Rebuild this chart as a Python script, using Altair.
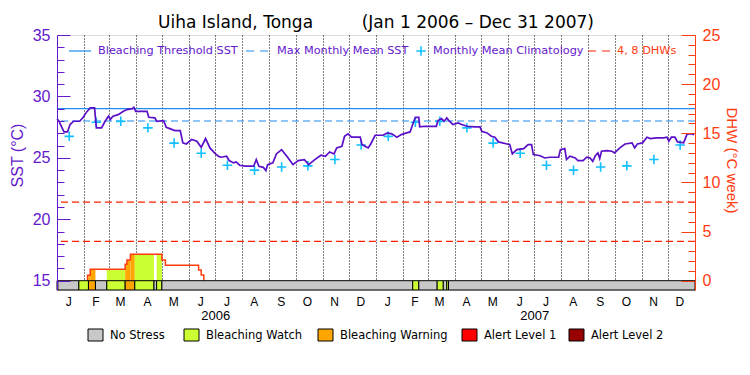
import altair as alt
import pandas as pd

# ------------------------------------------------------------------ data
sst_dates = [
    "2006-01-01", "2006-01-03", "2006-01-06", "2006-01-09", "2006-01-13", "2006-01-16", "2006-01-20",
    "2006-01-27", "2006-01-31", "2006-02-04", "2006-02-08", "2006-02-13", "2006-02-15", "2006-02-21",
    "2006-02-25", "2006-03-01", "2006-03-03", "2006-03-06", "2006-03-12", "2006-03-18", "2006-03-22",
    "2006-03-28", "2006-03-30", "2006-04-01", "2006-04-14", "2006-04-16", "2006-04-23", "2006-04-25",
    "2006-05-03", "2006-05-06", "2006-05-10", "2006-05-16", "2006-05-22", "2006-05-25", "2006-05-29",
    "2006-06-04", "2006-06-10", "2006-06-15", "2006-06-20", "2006-06-25", "2006-07-01", "2006-07-05",
    "2006-07-08", "2006-07-14", "2006-07-17", "2006-07-22", "2006-07-25", "2006-07-29", "2006-08-04",
    "2006-08-14", "2006-08-17", "2006-08-20", "2006-08-25", "2006-08-28", "2006-08-30", "2006-09-05",
    "2006-09-09", "2006-09-15", "2006-09-21", "2006-09-28", "2006-10-04", "2006-10-11", "2006-10-16",
    "2006-10-23", "2006-10-30", "2006-11-04", "2006-11-09", "2006-11-14", "2006-11-17", "2006-11-23",
    "2006-11-26", "2006-11-30", "2006-12-04", "2006-12-14", "2006-12-16", "2006-12-23", "2006-12-26",
    "2006-12-31", "2007-01-09", "2007-01-14", "2007-01-19", "2007-01-25", "2007-01-30", "2007-02-05",
    "2007-02-09", "2007-02-13", "2007-02-15", "2007-02-19", "2007-02-20", "2007-02-26", "2007-03-11",
    "2007-03-13", "2007-03-17", "2007-03-20", "2007-03-23", "2007-03-26", "2007-03-30", "2007-04-05",
    "2007-04-09", "2007-04-15", "2007-04-24", "2007-04-30", "2007-05-02", "2007-05-08", "2007-05-13",
    "2007-05-17", "2007-05-21", "2007-05-31", "2007-06-03", "2007-06-06", "2007-06-11", "2007-06-19",
    "2007-06-24", "2007-06-28", "2007-06-30", "2007-07-08", "2007-07-13", "2007-07-19", "2007-07-29",
    "2007-07-31", "2007-08-05", "2007-08-07", "2007-08-11", "2007-08-17", "2007-08-20", "2007-08-26",
    "2007-08-30", "2007-09-03", "2007-09-06", "2007-09-09", "2007-09-12", "2007-09-14", "2007-09-16",
    "2007-09-22", "2007-09-28", "2007-10-01", "2007-10-07", "2007-10-13", "2007-10-21", "2007-10-24",
    "2007-10-27", "2007-11-02", "2007-11-07", "2007-11-11", "2007-11-18", "2007-11-26", "2007-11-30",
    "2007-12-02", "2007-12-05", "2007-12-09", "2007-12-12", "2007-12-19", "2007-12-23", "2007-12-28",
    "2007-12-31",
]
sst_values = [
    28.17, 28.03, 27.57, 27.11, 27.11, 27.71, 27.98,
    27.98, 28.30, 28.74, 29.06, 29.06, 27.44, 27.44,
    27.98, 28.39, 28.12, 28.39, 28.52, 28.79, 28.93,
    29.01, 29.12, 28.79, 28.79, 28.30, 28.25, 27.98,
    28.03, 27.49, 27.38, 27.22, 27.22, 26.22, 26.13,
    26.49, 26.35, 25.86, 26.57, 25.81, 25.35, 25.12,
    25.05, 25.13, 24.78, 24.59, 24.67, 24.40, 24.32,
    24.32, 24.86, 24.32, 24.23, 23.96, 24.45, 24.59,
    25.32, 25.67, 25.13, 24.45, 24.78, 24.86, 24.45,
    24.86, 25.21, 25.13, 25.48, 25.32, 25.81, 25.94,
    26.76, 26.95, 26.68, 26.68, 26.08, 25.81, 26.13,
    26.84, 26.84, 27.03, 26.95, 26.68, 26.89, 27.03,
    27.11, 27.92, 28.30, 28.30, 27.52, 27.57, 27.57,
    28.03, 28.20, 27.98, 28.25, 27.98, 27.71, 27.84,
    27.71, 27.57, 27.52, 27.52, 27.17, 27.03, 26.76,
    26.68, 26.30, 26.13, 26.08, 25.32, 25.67, 25.75,
    26.08, 26.08, 25.27, 25.17, 24.99, 25.05, 25.05,
    25.67, 25.75, 24.86, 25.13, 24.99, 24.78, 24.78,
    25.05, 24.99, 24.72, 25.18, 25.40, 24.94, 25.54,
    25.59, 25.54, 25.40, 25.81, 26.13, 26.22, 25.81,
    26.13, 26.22, 26.68, 26.57, 26.62, 26.62, 26.68,
    26.35, 26.68, 26.68, 26.30, 26.22, 26.95, 26.95,
    26.89,
]

title_text = "Uiha Island, Tonga" + "\u00a0" * 9 + "(Jan 1 2006 \u2013 Dec 31 2007)"
years = ["2006", "2007"]
month_letters = ["J", "F", "M", "A", "M", "J", "J", "A", "S", "O", "N", "D"]
clim_values = [26.75, 27.90, 27.97, 27.44, 26.20, 25.37, 24.40, 24.00, 24.26, 24.35, 24.86, 26.05]

bleaching_threshold = 29.0
max_monthly_mean = 28.0
dhw_levels = [4, 8]

dhw_dates = ["2006-02-05", "2006-02-05", "2006-02-08", "2006-03-20", "2006-03-22", "2006-03-26",
             "2006-05-01", "2006-05-05", "2006-06-12", "2006-06-15", "2006-06-18"]
dhw_values = [0.0, 0.55, 1.16, 1.67, 2.10, 2.68, 2.10, 1.57, 1.09, 0.58, 0.0]

status_names = ["No Stress", "Bleaching Watch", "Bleaching Warning", "Alert Level 1", "Alert Level 2"]
status_colors = ["#c8c8c8", "#ccff33", "#ffa500", "#ff0000", "#990000"]
status_starts = ["2006-01-01", "2006-01-02", "2006-01-26", "2006-02-06", "2006-02-14", "2006-02-27",
                 "2006-03-20", "2006-03-31", "2006-04-22", "2006-04-25", "2006-05-01", "2007-02-12",
                 "2007-02-19", "2007-03-12", "2007-03-19", "2007-03-23", "2007-03-25"]
status_levels = ["No Stress", "No Stress", "Bleaching Watch", "Bleaching Warning", "No Stress",
                 "Bleaching Watch", "Bleaching Warning", "Bleaching Watch", "No Stress",
                 "Bleaching Watch", "No Stress", "Bleaching Watch", "No Stress", "Bleaching Watch",
                 "No Stress", "Bleaching Watch", "No Stress"]
period_end = "2008-01-01"

# ------------------------------------------------------------------ tables
sst_df = pd.DataFrame({"date": pd.to_datetime(sst_dates), "sst": sst_values})
clim_df = pd.DataFrame({
    "date": pd.to_datetime([f"{y}-{m + 1:02d}-15" for y in years for m in range(12)]),
    "sst": clim_values * len(years),
})
st = list(pd.to_datetime(status_starts))
en = st[1:] + [pd.Timestamp(period_end)]
status_df = pd.DataFrame({"start": st, "end": en, "level": status_levels})
dd = list(pd.to_datetime(dhw_dates))
dhw_df = pd.DataFrame({"date": dd, "dhw": dhw_values})


def dhw_at(t):
    v = 0.0
    for d, val in zip(dd, dhw_values):
        if d <= t:
            v = val
    return v


fill_rows = []
for s, e, lvl in zip(st, en, status_levels):
    if lvl == "No Stress":
        continue
    cuts = sorted(set([s, e] + [d for d in dd if s < d < e]))
    for a, b in zip(cuts[:-1], cuts[1:]):
        v = dhw_at(a)
        if v > 0:
            fill_rows.append({"start": a, "end": b, "dhw": v, "level": lvl})
fill_df = pd.DataFrame(fill_rows)

# ------------------------------------------------------------------ style
W, H = 638, 255
FONT = "DejaVu Sans"
PURPLE = "#6418cc"
SST_LINE = "#5a0fc8"
BLUE = "#1e8cf0"
CYAN = "#12c0ff"
ORANGE = "#ff3c10"
RED = "#ff2200"
PLUS = "M-1,0L1,0M0,-1L0,1"

sst_floor = 14.243
dhw_floor = -0.946
x_scale = alt.Scale(domain=[alt.DateTime(year=2006, month=1, date=1),
                            alt.DateTime(year=2008, month=1, date=1)], nice=False)
sst_scale = alt.Scale(domain=[sst_floor, 35], nice=False, zero=False)
dhw_scale = alt.Scale(domain=[dhw_floor, 25], nice=False, zero=False)
color_scale = alt.Scale(domain=status_names, range=status_colors)

sst_label_axis = alt.Axis(orient="left", values=[15, 20, 25, 30, 35], ticks=False, grid=False,
                          labelColor=PURPLE, labelFontSize=16, labelPadding=7, domainColor=PURPLE,
                          title="SST (°C)", titleColor=PURPLE, titleFontSize=16, titleFontWeight="normal",
                          titleX=-40, titleY=120, titleAngle=-90, titleBaseline="middle", titleAlign="center",
                          zindex=1)
sst_tick_axis = alt.Axis(orient="right", offset=-W, values=list(range(15, 36)), labels=False, grid=False,
                         domain=False, tickColor=PURPLE, title=None, zindex=1,
                         tickSize={"condition": {"test": "datum.value % 5 === 0", "value": 13}, "value": 7})
dhw_label_axis = alt.Axis(orient="right", values=[0, 5, 10, 15, 20, 25], ticks=False, grid=False,
                          labelColor=ORANGE, labelFontSize=16, labelPadding=7, domainColor=ORANGE,
                          title="DHW (°C week)", titleColor=ORANGE, titleFontSize=15, titleFontWeight="normal",
                          titleX=36, titleY=125, titleAngle=90, titleBaseline="middle", titleAlign="center",
                          zindex=1)
dhw_tick_axis = alt.Axis(orient="left", offset=-W, values=list(range(0, 26)), labels=False, grid=False,
                         domain=False, tickColor=ORANGE, title=None, zindex=1,
                         tickSize={"condition": {"test": "datum.value % 5 === 0", "value": 14}, "value": 7})

month_label_expr = "[" + ",".join(f"'{m}'" for m in month_letters) + "][month(datum.value)]"
month_axis = alt.Axis(orient="bottom",
                      values=[alt.DateTime(year=int(y), month=m + 1, date=14) for y in years for m in range(12)],
                      labelExpr=month_label_expr, ticks=False, domain=False, grid=False, title=None,
                      labelFontSize=12, labelColor="black", labelPadding=6, labelOverlap=False,
                      labelFlush=False, labelAngle=0)
year_axis = alt.Axis(orient="bottom", values=[alt.DateTime(year=int(y), month=7, date=1) for y in years],
                     format="%Y", ticks=False, domain=False, grid=False, title=None, labelFontSize=13,
                     labelColor="black", labelPadding=19, labelOverlap=False, labelFlush=False)
grid_axis = alt.Axis(orient="bottom",
                     values=[alt.DateTime(year=int(y), month=m, date=1) for y in years for m in range(1, 13)
                             if not (y == years[0] and m == 1)],
                     grid=True, gridColor="black", gridDash=[1, 2], gridWidth=1, labels=False,
                     ticks=False, domain=False, title=None)

# ------------------------------------------------------------------ layers
threshold = alt.Chart(pd.DataFrame({"v": [bleaching_threshold]})).mark_rule(
    color=BLUE, strokeWidth=1.2).encode(y=alt.Y("v:Q", scale=sst_scale, axis=sst_label_axis))
mmm = alt.Chart(pd.DataFrame({"v": [max_monthly_mean]})).mark_rule(
    color=BLUE, strokeWidth=1.2, strokeDash=[7, 4]).encode(y=alt.Y("v:Q", scale=sst_scale, axis=sst_tick_axis))

dhw_fill = alt.Chart(fill_df).mark_rect().encode(
    x=alt.X("start:T", scale=x_scale, axis=None), x2="end:T",
    y=alt.Y("dhw:Q", scale=dhw_scale, axis=None), y2=alt.Y2Datum(0),
    color=alt.Color("level:N", scale=color_scale, legend=None))

dhw_rules = alt.Chart(pd.DataFrame({"v": dhw_levels})).mark_rule(
    color=RED, strokeWidth=1.2, strokeDash=[7, 4]).encode(y=alt.Y("v:Q", scale=dhw_scale, axis=dhw_tick_axis))

dhw_line = alt.Chart(dhw_df).mark_line(color=ORANGE, strokeWidth=1.5, interpolate="step-after").encode(
    x=alt.X("date:T", scale=x_scale, axis=None),
    y=alt.Y("dhw:Q", scale=dhw_scale, axis=dhw_label_axis))

clim = alt.Chart(clim_df).mark_point(shape=PLUS, size=90, filled=False, strokeWidth=1.6, color=CYAN,
                                     opacity=1).encode(
    x=alt.X("date:T", scale=x_scale, axis=month_axis),
    y=alt.Y("sst:Q", scale=sst_scale, axis=None))

sst_line = alt.Chart(sst_df).mark_line(color=SST_LINE, strokeWidth=1.7).encode(
    x=alt.X("date:T", scale=x_scale, axis=grid_axis),
    y=alt.Y("sst:Q", scale=sst_scale, axis=None))

status_bar = alt.Chart(status_df).mark_rect(stroke="black", strokeWidth=1).encode(
    x=alt.X("start:T", scale=x_scale, axis=year_axis), x2="end:T",
    y=alt.YDatum(15, scale=sst_scale, axis=None), y2=alt.Y2Datum(sst_floor),
    color=alt.Color("level:N", scale=color_scale, legend=None))

one = pd.DataFrame({"a": [0]})


def text_layer(label, px, py, color, size, align="left", baseline="middle"):
    return alt.Chart(one).mark_text(align=align, baseline=baseline, font=FONT, fontSize=size,
                                    color=color).encode(x=alt.value(px), y=alt.value(py), text=alt.value(label))


title_layer = text_layer(title_text, W / 2, -7, "black", 17, align="center", baseline="alphabetic")

LEG_Y = 16
top_legend = [
    alt.Chart(one).mark_rule(color=BLUE, strokeWidth=1.2).encode(
        x=alt.value(12), x2=alt.value(34), y=alt.value(LEG_Y)),
    text_layer("Bleaching Threshold SST", 41, LEG_Y, PURPLE, 11.3),
    alt.Chart(one).mark_rule(color=BLUE, strokeWidth=1.2, strokeDash=[8, 6]).encode(
        x=alt.value(189), x2=alt.value(213), y=alt.value(LEG_Y)),
    text_layer("Max Monthly Mean SST", 220, LEG_Y, PURPLE, 11.3),
    alt.Chart(one).mark_point(shape=PLUS, size=90, filled=False, strokeWidth=1.6, color=CYAN, opacity=1).encode(
        x=alt.value(364), y=alt.value(LEG_Y)),
    text_layer("Monthly Mean Climatology", 376, LEG_Y, PURPLE, 11.3),
    alt.Chart(one).mark_rule(color=RED, strokeWidth=1.2, strokeDash=[8, 6]).encode(
        x=alt.value(531), x2=alt.value(555), y=alt.value(LEG_Y)),
    text_layer("4, 8 DHWs", 560, LEG_Y, ORANGE, 11.3),
]

box_left = [31, 127, 261, 405, 512]
BOX_W = 15
bottom_legend = []
for name, col, bx in zip(status_names, status_colors, box_left):
    bottom_legend.append(
        alt.Chart(one).mark_rect(fill=col, stroke="black", strokeWidth=1).encode(
            x=alt.value(bx), x2=alt.value(bx + BOX_W), y=alt.value(294), y2=alt.value(306)))
    bottom_legend.append(text_layer(name, bx + BOX_W + 7, 300.5, "black", 11.5))

chart = alt.layer(
    threshold, mmm, dhw_fill, dhw_rules, dhw_line, clim, sst_line, status_bar,
    *top_legend, *bottom_legend, title_layer,
).resolve_scale(y="independent").resolve_axis(x="independent", y="independent").properties(
    width=W, height=H,
    autosize=alt.AutoSizeParams(type="none"),
    padding={"left": 49, "top": 27, "right": 47, "bottom": 70},
).configure_view(stroke="black", strokeWidth=1).configure_axis(
    labelFont=FONT, titleFont=FONT
).configure(background="white")

chart.save("out.html", embed_options={"renderer": "svg", "actions": False})
